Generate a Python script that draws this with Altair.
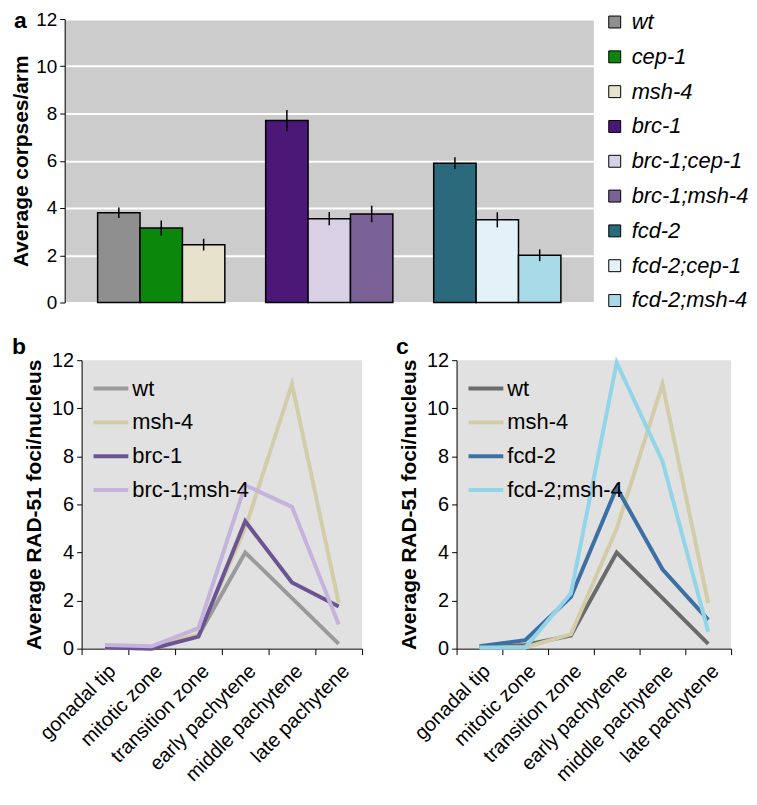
import altair as alt
import pandas as pd

FONT = "Liberation Sans"

# ---------------- panel a data ----------------
genotypes_a = ["wt", "cep-1", "msh-4", "brc-1", "brc-1;cep-1", "brc-1;msh-4",
               "fcd-2", "fcd-2;cep-1", "fcd-2;msh-4"]
groups_a = ["wt", "wt", "wt", "brc-1", "brc-1", "brc-1", "fcd-2", "fcd-2", "fcd-2"]
group_order = ["wt", "brc-1", "fcd-2"]
slots_a = [0, 1, 2, 0, 1, 2, 0, 1, 2]
corpses = [3.8, 3.15, 2.45, 7.7, 3.55, 3.75, 5.9, 3.5, 2.0]
corpse_err = [0.22, 0.32, 0.25, 0.45, 0.28, 0.35, 0.25, 0.32, 0.25]
colors_a = ["#8f8f8f", "#0b870b", "#e6e2cc", "#4b1878", "#d9d0e6", "#7a6296",
            "#2a6a7c", "#e3f2f8", "#a7d9e7"]

# ---------------- panels b, c data ----------------
stages = ["gonadal tip", "mitotic zone", "transition zone", "early pachytene",
          "middle pachytene", "late  pachytene"]
names_b = ["wt", "msh-4", "brc-1", "brc-1;msh-4"]
wt_b = [0.05, 0.05, 0.55, 4.0, 2.1, 0.2]
msh4_b = [0.05, 0.05, 0.6, 5.0, 11.0, 1.9]
brc1_b = [0.05, 0.0, 0.5, 5.3, 2.75, 1.75]
brc1msh4_b = [0.15, 0.1, 0.85, 6.8, 5.9, 1.0]
colors_b = ["#9a9a9a", "#d3cca8", "#6c5494", "#c4b4dc"]

names_c = ["wt", "msh-4", "fcd-2", "fcd-2;msh-4"]
wt_c = [0.05, 0.15, 0.55, 4.0, 2.1, 0.2]
msh4_c = [0.05, 0.05, 0.6, 5.0, 11.0, 1.9]
fcd2_c = [0.1, 0.35, 2.15, 6.7, 3.3, 1.2]
fcd2msh4_c = [0.05, 0.05, 2.3, 11.9, 7.8, 0.7]
colors_c = ["#6b6b6b", "#d3cca8", "#3c6fa3", "#93d5e8"]

y_ticks = [0, 2, 4, 6, 8, 10, 12]

# ---------------- panel a ----------------
df_a = pd.DataFrame({
    "genotype": genotypes_a,
    "group": groups_a,
    "slot": slots_a,
    "value": corpses,
    "lo": [v - e for v, e in zip(corpses, corpse_err)],
    "hi": [v + e for v, e in zip(corpses, corpse_err)],
})

xa = alt.X("group:N", sort=group_order, axis=None,
           scale=alt.Scale(paddingInner=0.243, paddingOuter=0.196))
xoff = alt.XOffset("slot:N", scale=alt.Scale(paddingInner=0, paddingOuter=0))
axis_a = alt.Axis(values=y_ticks, grid=True, gridColor="white", gridWidth=2,
                  domainColor="black", tickColor="black", tickSize=5,
                  labelFontSize=19, labelColor="black", labelPadding=3,
                  titleFontSize=21, titleFontWeight="bold", titleColor="black",
                  titlePadding=4)

bars = alt.Chart(df_a).mark_bar(stroke="black", strokeWidth=1.5).encode(
    x=xa, xOffset=xoff,
    y=alt.Y("value:Q", scale=alt.Scale(domain=[0, 12], nice=False), axis=axis_a,
            title="Average corpses/arm"),
    color=alt.Color("genotype:N",
                    scale=alt.Scale(domain=genotypes_a, range=colors_a),
                    legend=alt.Legend(title=None, orient="none", legendX=542, legendY=-8,
                                      symbolType="square", symbolSize=144,
                                      symbolStrokeColor="black", symbolStrokeWidth=1,
                                      labelFontSize=22, labelFontStyle="italic",
                                      labelColor="black", labelFont=FONT,
                                      rowPadding=13, labelOffset=6, padding=0)),
)
err = alt.Chart(df_a).mark_rule(color="black", strokeWidth=1.5).encode(
    x=xa, xOffset=xoff,
    y=alt.Y("lo:Q", axis=axis_a, title="Average corpses/arm"), y2="hi:Q",
)
label_a = alt.Chart(pd.DataFrame({"t": ["a"]})).mark_text(
    fontSize=23, fontWeight="bold", align="left", baseline="top", font=FONT, color="black"
).encode(text="t:N", x=alt.value(-51), y=alt.value(-9))

panel_a = alt.layer(bars, err, label_a).properties(
    width=532, height=285,
    view=alt.ViewBackground(fill="#cccccc", stroke=None),
)


# ---------------- line panels ----------------
def line_panel(names, series, colors, label, label_x, w, h):
    rows = []
    for name, vals in zip(names, series):
        for i, (st, v) in enumerate(zip(stages, vals)):
            rows.append({"stage": st, "idx": i, "value": v, "genotype": name})
    df = pd.DataFrame(rows)
    lines = alt.Chart(df).mark_line(strokeWidth=4).encode(
        x=alt.X("stage:N", sort=stages, bandPosition=0.5,
                scale=alt.Scale(type="band", paddingInner=0, paddingOuter=0),
                axis=alt.Axis(title=None, labelAngle=-45, tickBand="extent",
                              domainColor="black", tickColor="black", tickSize=6,
                              labelFontSize=20, labelColor="black", labelPadding=6)),
        y=alt.Y("value:Q", scale=alt.Scale(domain=[0, 12], nice=False),
                axis=alt.Axis(values=y_ticks, grid=False, domainColor="black",
                              tickColor="black", tickSize=5, labelFontSize=20,
                              labelColor="black", labelPadding=3,
                              titleFontSize=21, titleFontWeight="bold",
                              titleColor="black", titlePadding=7),
                title="Average RAD-51 foci/nucleus"),
        color=alt.Color("genotype:N", scale=alt.Scale(domain=names, range=colors),
                        legend=alt.Legend(title=None, orient="none", legendX=10, legendY=9,
                                          symbolType="stroke", symbolStrokeWidth=4,
                                          symbolSize=1225, labelFontSize=22,
                                          labelColor="black", labelFont=FONT,
                                          rowPadding=3, labelOffset=2, padding=0)),
        order="idx:Q",
    )
    lab = alt.Chart(pd.DataFrame({"t": [label]})).mark_text(
        fontSize=23, fontWeight="bold", align="left", baseline="top", font=FONT, color="black"
    ).encode(text="t:N", x=alt.value(label_x), y=alt.value(-24))
    return alt.layer(lines, lab).properties(
        width=w, height=h,
        view=alt.ViewBackground(fill="#e1e1e1", stroke=None),
    )


panel_b = line_panel(names_b, [wt_b, msh4_b, brc1_b, brc1msh4_b], colors_b, "b", -70, 282, 290)
panel_c = line_panel(names_c, [wt_c, msh4_c, fcd2_c, fcd2msh4_c], colors_c, "c", -61, 276, 290)

# invisible 1px spacer that shifts the bottom row right of panel a's axis
spacer = alt.Chart(pd.DataFrame({"v": [0]})).mark_point(opacity=0).encode(
    x=alt.value(0), y=alt.value(0)
).properties(width=1, height=1)

bc = alt.hconcat(panel_b, panel_c, spacing=95, bounds="flush").resolve_scale(color="independent")
bottom = alt.hconcat(spacer, bc, spacing=16, bounds="flush")
chart = alt.vconcat(panel_a, bottom, spacing=58, bounds="flush").resolve_scale(
    color="independent"
).properties(
    padding={"left": 2, "top": 0, "right": 0, "bottom": 0}
).configure(font=FONT).configure_view(stroke=None)

chart.save("out.html", embed_options={"renderer": "svg", "actions": False})
